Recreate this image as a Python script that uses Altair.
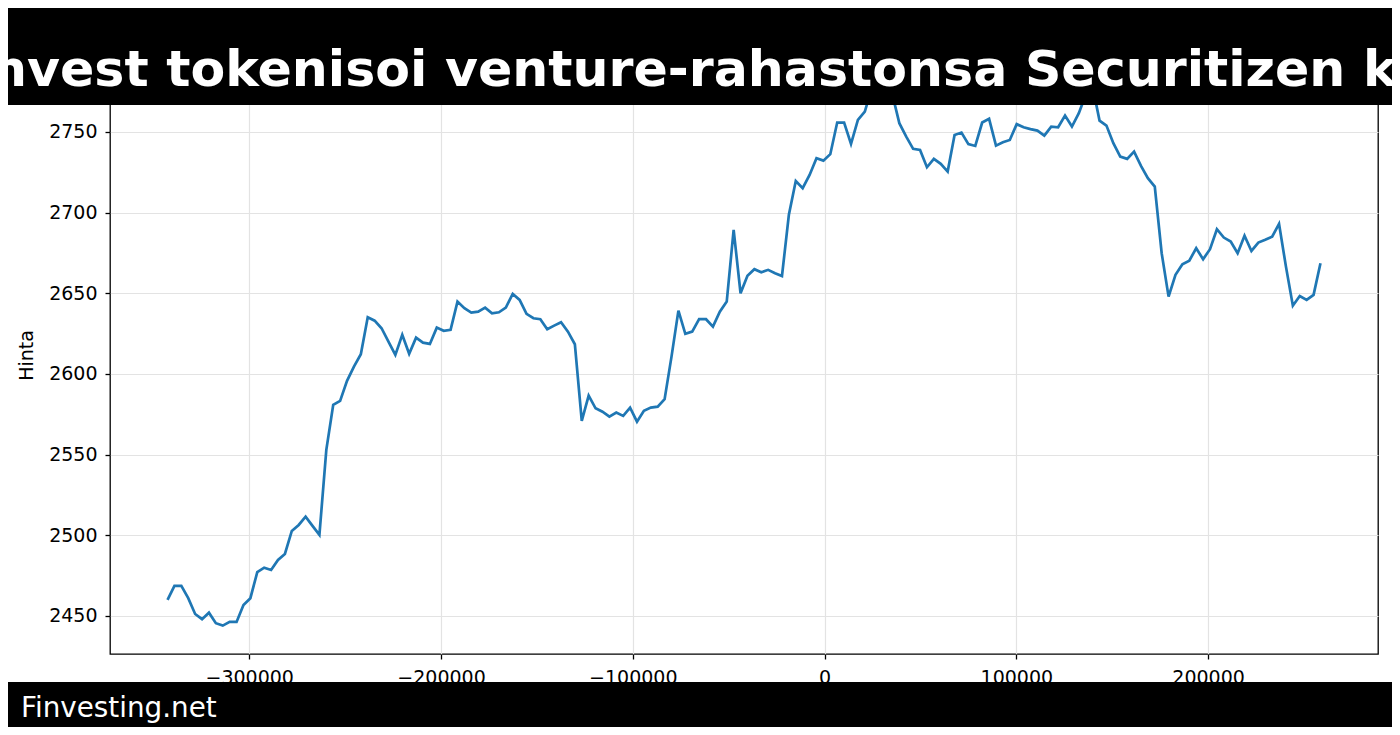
import altair as alt
import pandas as pd

# Hourly offsets (seconds) and price values
x_vals = [
    -342600, -339000, -335400, -331800, -328200, -324600, -321000, -317400, -313800, -310200,
    -306600, -303000, -299400, -295800, -292200, -288600, -285000, -281400, -277800, -274200,
    -270600, -267000, -263400, -259800, -256200, -252600, -249000, -245400, -241800, -238200,
    -234600, -231000, -227400, -223800, -220200, -216600, -213000, -209400, -205800, -202200,
    -198600, -195000, -191400, -187800, -184200, -180600, -177000, -173400, -169800, -166200,
    -162600, -159000, -155400, -151800, -148200, -144600, -141000, -137400, -133800, -130200,
    -126600, -123000, -119400, -115800, -112200, -108600, -105000, -101400, -97800, -94200,
    -90600, -87000, -83400, -79800, -76200, -72600, -69000, -65400, -61800, -58200,
    -54600, -51000, -47400, -43800, -40200, -36600, -33000, -29400, -25800, -22200,
    -18600, -15000, -11400, -7800, -4200, -600, 3000, 6600, 10200, 13800,
    17400, 21000, 24600, 28200, 31800, 35400, 39000, 42600, 46200, 49800,
    53400, 57000, 60600, 64200, 67800, 71400, 75000, 78600, 82200, 85800,
    89400, 93000, 96600, 100200, 103800, 107400, 111000, 114600, 118200, 121800,
    125400, 129000, 132600, 136200, 139800, 143400, 147000, 150600, 154200, 157800,
    161400, 165000, 168600, 172200, 175800, 179400, 183000, 186600, 190200, 193800,
    197400, 201000, 204600, 208200, 211800, 215400, 219000, 222600, 226200, 229800,
    233400, 237000, 240600, 244200, 247800, 251400, 255000, 258600,
]

price = [
    2459.9, 2468.6, 2468.6, 2461.0, 2451.2, 2448.0, 2452.0, 2445.5, 2444.0, 2446.3,
    2446.3, 2456.8, 2461.0, 2477.1, 2479.9, 2478.5, 2484.7, 2488.4, 2502.7, 2506.4,
    2511.5, 2505.8, 2500.2, 2552.9, 2580.8, 2583.3, 2595.7, 2604.5, 2612.2, 2635.1,
    2633.0, 2628.3, 2620.0, 2611.8, 2624.2, 2612.5,
    2622.5, 2619.4, 2618.6, 2628.7, 2626.7, 2627.3, 2644.8, 2640.7, 2638.0, 2638.6,
    2641.1, 2637.6, 2638.2, 2641.1, 2649.6, 2645.9, 2637.2, 2634.5, 2633.9, 2627.7,
    2629.9, 2632.0, 2626.2, 2618.4, 2570.9, 2586.5, 2578.7, 2576.6, 2573.5, 2576.0,
    2574.0, 2579.1, 2570.4, 2577.2, 2579.1,
    2579.7, 2584.3, 2610.7, 2639.2, 2624.8, 2626.2, 2633.9, 2633.9, 2629.3, 2638.6,
    2644.8, 2689.3, 2650.0, 2660.9, 2664.9, 2663.0, 2664.5, 2662.4, 2660.7, 2698.6,
    2719.6, 2715.1, 2723.3, 2733.7, 2732.2, 2736.2, 2755.8, 2755.8, 2742.6, 2757.4,
    2762.6,
    2777.0, 2795.0, 2788.0, 2773.0,
    2755.4, 2747.1, 2739.5, 2738.8, 2728.1, 2733.3, 2730.2, 2725.4, 2748.1, 2749.6,
    2742.4, 2741.3, 2755.8, 2758.1, 2741.5, 2743.6, 2745.0, 2754.8, 2752.9, 2751.7,
    2750.8, 2747.7, 2753.3, 2752.9, 2760.1, 2753.3, 2761.6,
    2773.0, 2778.0,
    2757.0, 2753.9, 2743.0, 2734.7, 2733.3, 2737.8, 2728.9, 2721.3, 2716.1, 2674.8,
    2647.9, 2661.4, 2668.0, 2670.2, 2677.9, 2671.1, 2677.3, 2689.7, 2684.5, 2682.0,
    2674.8, 2685.7, 2676.2, 2681.4, 2683.1, 2685.1, 2693.0, 2666.5, 2642.3, 2648.3,
    2645.9, 2649.0, 2668.6,
]

x_ticks = [-300000, -200000, -100000, 0, 100000, 200000]
y_ticks = [2450, 2500, 2550, 2600, 2650, 2700, 2750, 2800]

title_text = "nvest tokenisoi venture-rahastonsa Securitizen k"
footer_text = "Finvesting.net"
y_title = "Hinta"

df = pd.DataFrame({"x": x_vals, "y": price})

W, H = 1268, 621
PAD = {"left": 102, "top": 25, "right": 14, "bottom": 73}

line = alt.Chart(df).mark_line(color="#1f77b4", strokeWidth=2.7).encode(
    x=alt.X("x:Q",
            scale=alt.Scale(domain=[-372600, 288600], nice=False, zero=False),
            axis=alt.Axis(values=x_ticks, format="d", title=None, grid=True,
                          labelPadding=9, zindex=0)),
    y=alt.Y("y:Q",
            scale=alt.Scale(domain=[2426.4, 2811.3], nice=False, zero=False),
            axis=alt.Axis(values=y_ticks, format="d", title=y_title, grid=True,
                          labelPadding=8, titlePadding=12, titleY=322, zindex=0)),
)

one = pd.DataFrame({"t": [title_text]})
banner = alt.Chart(one).mark_rect(color="black").encode(
    x=alt.value(-PAD["left"]), x2=alt.value(W + PAD["right"]),
    y=alt.value(-PAD["top"]), y2=alt.value(72),
)
title = alt.Chart(one).mark_text(
    align="left", baseline="alphabetic", font="DejaVu Sans", fontWeight="bold",
    fontSize=50.6, color="white",
).encode(x=alt.value(-119), y=alt.value(53), text="t:N")

foot = pd.DataFrame({"t": [footer_text]})
footer = alt.Chart(foot).mark_rect(color="black").encode(
    x=alt.value(-PAD["left"]), x2=alt.value(W + PAD["right"]),
    y=alt.value(649), y2=alt.value(H + PAD["bottom"]),
)
footer_label = alt.Chart(foot).mark_text(
    align="left", baseline="alphabetic", font="DejaVu Sans",
    fontSize=27.8, color="white",
).encode(x=alt.value(-89), y=alt.value(684), text="t:N")

chart = alt.layer(line, banner, title, footer, footer_label).properties(
    width=W, height=H,
    autosize=alt.AutoSizeParams(type="none"),
    padding=PAD,
    background="white",
).configure_view(
    stroke="black", strokeWidth=1.3,
).configure_axis(
    domain=False,
    gridColor="#e3e3e3", gridWidth=1.2,
    tickColor="black", tickWidth=1.3, tickSize=5,
    labelFont="DejaVu Sans", labelFontSize=19, labelColor="black",
    titleFont="DejaVu Sans", titleFontSize=19, titleFontWeight="normal", titleColor="black",
)

chart.save("out.html", embed_options={"renderer": "svg", "actions": False})
